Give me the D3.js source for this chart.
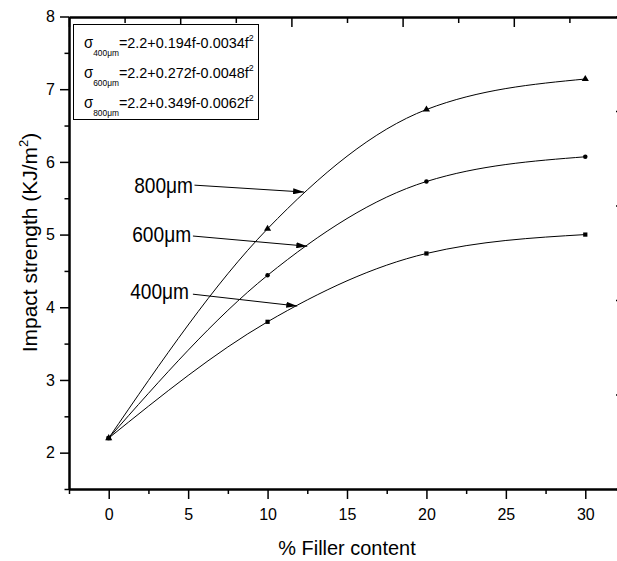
<!DOCTYPE html>
<html>
<head>
<meta charset="utf-8">
<script src="https://cdn.jsdelivr.net/npm/d3@7/dist/d3.min.js"></script>
<style>
  html, body { margin: 0; padding: 0; background: #fff; }
  svg { display: block; }
  text { font-family: "Liberation Sans", Arial, sans-serif; fill: #000; }
</style>
</head>
<body>
<svg id="chart" width="617" height="561"></svg>
<script>
// ---- data ----
const fillerContent = [0, 10, 20, 30];
const strength400 = [2.2, 3.80, 4.74, 5.00];
const strength600 = [2.2, 4.44, 5.73, 6.07];
const strength800 = [2.2, 5.08, 6.72, 7.14];
const seriesNames = ["400μm", "600μm", "800μm"];
const xTickValues = [0, 5, 10, 15, 20, 25, 30];
const yTickValues = [2, 3, 4, 5, 6, 7, 8];
const legendSubs = ["400μm", "600μm", "800μm"];
const legendEqs = ["=2.2+0.194f-0.0034f", "=2.2+0.272f-0.0048f", "=2.2+0.349f-0.0062f"];
const xTitle = "% Filler content";
const yTitle = "Impact strength (KJ/m";

// annotation anchors in data units: label start, arrow tail, arrow tip
const annotations = [
  { name: "800μm", tx: 1.6, ty: 5.57, ax0: 5.4, ay0: 5.68, ax1: 12.3, ay1: 5.585 },
  { name: "600μm", tx: 1.48, ty: 4.897, ax0: 5.3, ay0: 4.98, ax1: 12.5, ay1: 4.84 },
  { name: "400μm", tx: 1.35, ty: 4.11, ax0: 5.3, ay0: 4.18, ax1: 11.87, ay1: 4.017 }
];

// ---- layout ----
const svg = d3.select("#chart");
const pLeft = 69, pRight = 625, pTop = 16.5, pBottom = 489;

const x = d3.scaleLinear().domain([-2.5, 32.5]).range([pLeft, pRight]);
const y = d3.scaleLinear().domain([1.5, 8]).range([pBottom, pTop]);
// top / right axes (independent default scales in original)
const xTop = d3.scaleLinear().domain([0, 10]).range([pLeft, pRight]);
const yRight = d3.scaleLinear().domain([0, 10]).range([pBottom, pTop]);

// ---- axes ----
function styleAxis(g) {
  g.select(".domain").attr("stroke", "#000").attr("stroke-width", 2);
  g.selectAll(".tick line").attr("stroke", "#000").attr("stroke-width", 1.5);
}

// bottom minor ticks
svg.append("g").attr("transform", `translate(0,${pBottom})`)
  .call(d3.axisBottom(x).tickValues(d3.range(-2.5, 33, 5)).tickSize(5).tickFormat("").tickSizeOuter(0))
  .call(styleAxis);
// bottom major
const gx = svg.append("g").attr("transform", `translate(0,${pBottom})`)
  .call(d3.axisBottom(x).tickValues(xTickValues).tickSize(10).tickSizeOuter(0).tickPadding(9.5).tickFormat(d3.format("d")))
  .call(styleAxis);
gx.selectAll(".tick text").attr("font-size", 16).attr("font-family", "Liberation Sans, Arial, sans-serif");

// left minor
svg.append("g").attr("transform", `translate(${pLeft},0)`)
  .call(d3.axisLeft(y).tickValues(d3.range(1.5, 8, 1)).tickSize(4.5).tickFormat("").tickSizeOuter(0))
  .call(styleAxis);
const gy = svg.append("g").attr("transform", `translate(${pLeft},0)`)
  .call(d3.axisLeft(y).tickValues(yTickValues).tickSize(9).tickSizeOuter(0).tickPadding(5).tickFormat(d3.format("d")))
  .call(styleAxis);
gy.selectAll(".tick text").attr("font-size", 16).attr("font-family", "Liberation Sans, Arial, sans-serif");

// top axis (ticks inward)
svg.append("g").attr("transform", `translate(0,${pTop + 0.5})`)
  .call(d3.axisTop(xTop).tickValues(d3.range(1, 10, 2)).tickSize(-6).tickFormat("").tickSizeOuter(0))
  .call(styleAxis);
svg.append("g").attr("transform", `translate(0,${pTop + 0.5})`)
  .call(d3.axisTop(xTop).tickValues(d3.range(0, 11, 2)).tickSize(-10).tickFormat("").tickSizeOuter(0))
  .call(styleAxis);
// right axis (ticks inward)
svg.append("g").attr("transform", `translate(${pRight},0)`)
  .call(d3.axisRight(yRight).tickValues(d3.range(1, 10, 2)).tickSize(-5).tickFormat("").tickSizeOuter(0))
  .call(styleAxis);
svg.append("g").attr("transform", `translate(${pRight},0)`)
  .call(d3.axisRight(yRight).tickValues(d3.range(0, 11, 2)).tickSize(-9).tickFormat("").tickSizeOuter(0))
  .call(styleAxis);

// axis titles
svg.append("text").attr("transform", `translate(${x(15)},555) scale(0.95,1)`)
  .attr("text-anchor", "middle").attr("font-size", 21).text(xTitle);
const yt = svg.append("text").attr("transform", `translate(37,242.5) rotate(-90)`)
  .attr("text-anchor", "middle").attr("font-size", 21);
yt.append("tspan").text(yTitle);
yt.append("tspan").attr("font-size", 13).attr("dy", -9).text("2");
yt.append("tspan").attr("dy", 9).text(")");

// ---- curves ----
const series = [
  { name: seriesNames[2], values: strength800, symbol: d3.symbolTriangle, size: 22 },
  { name: seriesNames[1], values: strength600, symbol: d3.symbolCircle, size: 16 },
  { name: seriesNames[0], values: strength400, symbol: d3.symbolSquare, size: 18 }
];
const line = d3.line().x(d => x(d[0])).y(d => y(d[1])).curve(d3.curveMonotoneX);

series.forEach(s => {
  const pts = fillerContent.map((f, i) => [f, s.values[i]]);
  svg.append("path").datum(pts).attr("d", line)
    .attr("fill", "none").attr("stroke", "#000").attr("stroke-width", 1);
  svg.selectAll(null).data(pts).enter().append("path")
    .attr("transform", d => `translate(${x(d[0])},${y(d[1])})`)
    .attr("d", d3.symbol().type(s.symbol).size(s.size))
    .attr("fill", "#000");
});

// ---- legend box ----
const lg = svg.append("g");
lg.append("rect").attr("x", 73.5).attr("y", 24.5).attr("width", 185).attr("height", 95)
  .attr("fill", "#fff").attr("stroke", "#000").attr("stroke-width", 1);
legendEqs.forEach((eq, i) => {
  const t = lg.append("text").attr("transform", `translate(84,${48 + i * 30}) scale(0.93,1)`)
    .attr("font-size", 16);
  t.append("tspan").text("σ");
  t.append("tspan").attr("font-size", 9).attr("dy", 8).text(legendSubs[i]);
  t.append("tspan").attr("font-size", 15.5).attr("dy", -8).text(eq);
  t.append("tspan").attr("font-size", 9.5).attr("dy", -7).text("2");
});

// ---- annotations ----
svg.append("defs").append("marker").attr("id", "arrow")
  .attr("viewBox", "0 0 11 6").attr("refX", 11).attr("refY", 3)
  .attr("markerWidth", 11).attr("markerHeight", 6).attr("markerUnits", "userSpaceOnUse")
  .attr("orient", "auto")
  .append("path").attr("d", "M0,0 L11,3 L0,6 Z").attr("fill", "#000");

annotations.forEach(a => {
  svg.append("text").attr("transform", `translate(${x(a.tx)},${y(a.ty)}) scale(0.87,1)`)
    .attr("font-size", 22).text(a.name);
  svg.append("line").attr("x1", x(a.ax0)).attr("y1", y(a.ay0)).attr("x2", x(a.ax1)).attr("y2", y(a.ay1))
    .attr("stroke", "#000").attr("stroke-width", 1).attr("marker-end", "url(#arrow)");
});
</script>
</body>
</html>
